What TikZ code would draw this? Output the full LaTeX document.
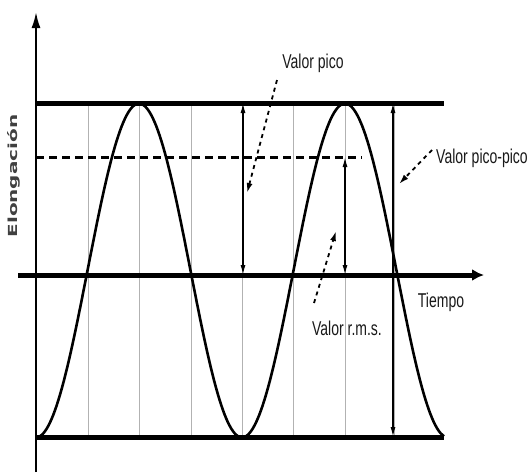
\documentclass[tikz,border=0pt]{standalone}
\usepackage{fontspec}
\setmainfont{Liberation Sans}
\newfontfamily\elfont{DejaVu Sans}
\usetikzlibrary{arrows.meta}
\begin{document}
\begin{tikzpicture}[x=1pt,y=-1pt,
  heavy/.style={line width=5pt},
  gridline/.style={line width=1pt,draw=black!30},
  dimarrow/.style={line width=1.4pt,{Latex[length=10pt,width=5pt]}-{Latex[length=10pt,width=5pt]}},
  pointer/.style={line width=1.8pt,dash pattern=on 4pt off 4pt,-{Latex[length=10pt,width=6pt]}},
  lbl/.style={inner sep=0pt,font=\fontsize{20}{20}\selectfont,text=black!90}]
\useasboundingbox (0,0) rectangle (528,472);
% grid
\foreach \gx in {88,139,191,242,293,345,394}{
  \draw[gridline] (\gx,103) -- (\gx,437);
}
% horizontal lines
\coordinate (tl) at (36,103); \coordinate (tr) at (444,103);
\coordinate (bl) at (36,437); \coordinate (br) at (444,437);
\draw[heavy] (tl) -- (tr);
\draw[heavy] (bl) -- (br);
% rms dashed
\coordinate (rl) at (36,157); \coordinate (rr) at (362,157);
\draw[line width=3pt,dash pattern=on 8pt off 5pt] (rl) -- (rr);
% axes
\coordinate (yb) at (36,472); \coordinate (yt) at (36,12);
\draw[line width=2pt,-{Latex[length=16pt,width=9pt]}] (yb) -- (yt);
\coordinate (xl) at (18,275); \coordinate (xr) at (484,275);
\draw[heavy,-{Latex[length=12pt,width=12pt]}] (xl) -- (xr);
% wave
\draw[line width=2.6pt,line join=round] plot[smooth,domain=0:408,samples=120] ({\x+36},{270.5+167*cos(\x/206*360)});
% dimension arrows
\coordinate (pa) at (243,103); \coordinate (pb) at (243,275);
\draw[dimarrow] (pa) -- (pb);
\coordinate (ra) at (345,157); \coordinate (rb) at (345,275);
\draw[dimarrow] (ra) -- (rb);
\coordinate (ppa) at (393,103); \coordinate (ppb) at (393,437);
\draw[dimarrow] (ppa) -- (ppb);
% labels
\node[lbl] (vp) at (313,63) {\scalebox{0.7}[1]{Valor pico}};
\node[lbl,anchor=west] (vpp) at (436,158) {\scalebox{0.7}[1]{Valor pico-pico}};
\node[lbl] (vr) at (347,328) {\scalebox{0.7}[1]{Valor r.m.s.}};
\node[lbl] (ti) at (441,302) {\scalebox{0.7}[1]{Tiempo}};
\node[inner sep=0pt,rotate=90,font=\elfont\bfseries\fontsize{12.5}{13}\selectfont,text=black!75] (el) at (14,176) {\scalebox{1.6}[1]{Elongación}};
% pointers
\coordinate (p1s) at (277,80); \coordinate (p1e) at (247,193);
\draw[pointer] (p1s) -- (p1e);
\coordinate (p2s) at (432,150); \coordinate (p2e) at (399,184);
\draw[pointer] (p2s) -- (p2e);
\coordinate (p3s) at (314,303); \coordinate (p3e) at (336,231);
\draw[pointer] (p3s) -- (p3e);
\end{tikzpicture}
\end{document}
